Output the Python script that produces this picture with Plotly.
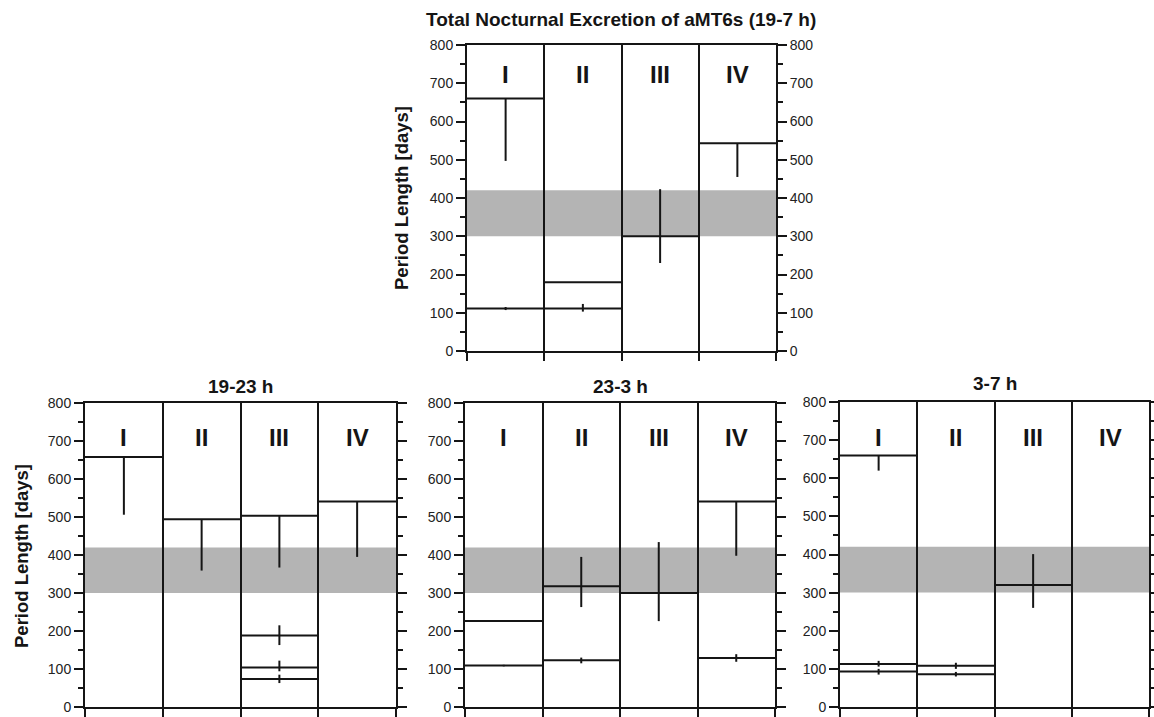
import plotly.graph_objects as go

# ---------------- data ----------------
columns = ["I", "II", "III", "IV"]
band_low, band_high = 300, 420
y_ticks = list(range(0, 801, 100))
y_minor = list(range(50, 800, 100))

panel_titles = ["Total Nocturnal Excretion of aMT6s (19-7 h)", "19-23 h", "23-3 h", "3-7 h"]

total_col = [0, 0, 1, 1, 2, 3]
total_mean = [660, 111, 180, 111, 300, 543]
total_lo = [163, 4, 0, 8, 70, 88]
total_hi = [0, 4, 0, 12, 123, 0]

h19_23_col = [0, 1, 2, 2, 2, 2, 3]
h19_23_mean = [658, 494, 503, 188, 104, 74, 541]
h19_23_lo = [152, 135, 136, 25, 10, 11, 146]
h19_23_hi = [0, 0, 0, 27, 18, 11, 0]

h23_3_col = [0, 0, 1, 1, 2, 3, 3]
h23_3_mean = [226, 109, 318, 123, 300, 541, 129]
h23_3_lo = [0, 2, 55, 8, 74, 143, 10]
h23_3_hi = [0, 2, 77, 7, 134, 0, 10]

h3_7_col = [0, 0, 0, 1, 1, 2]
h3_7_mean = [660, 113, 93, 108, 86, 320]
h3_7_lo = [40, 7, 8, 8, 6, 60]
h3_7_hi = [0, 8, 7, 8, 6, 81]

datasets = [
    (total_col, total_mean, total_lo, total_hi),
    (h19_23_col, h19_23_mean, h19_23_lo, h19_23_hi),
    (h23_3_col, h23_3_mean, h23_3_lo, h23_3_hi),
    (h3_7_col, h3_7_mean, h3_7_lo, h3_7_hi),
]

# ---------------- layout geometry ----------------
W, H = 1154, 717
FONT = "Arial, 'Liberation Sans', Helvetica, sans-serif"
INK = "#151515"

panels = [
    dict(px=(467, 776), py=(45, 351), right_labels=True, ylabel=(402, 198), title=(621, 19), num_y=722),
    dict(px=(85, 396), py=(403, 707), right_labels=False, ylabel=(21, 556), title=(240, 386), num_y=708),
    dict(px=(465, 775), py=(403, 707), right_labels=False, ylabel=None, title=(620, 386), num_y=708),
    dict(px=(840, 1149), py=(402, 707), right_labels=False, ylabel=None, title=(995, 383), num_y=708),
]

fig = go.Figure()
layout = dict(
    width=W, height=H, autosize=False,
    margin=dict(l=0, r=0, t=0, b=0, pad=0, autoexpand=False),
    paper_bgcolor="white", plot_bgcolor="white",
    showlegend=False,
    font=dict(family=FONT, color=INK, size=14),
)
annotations = []
shapes = []

for i, (p, (cols, means, lo, hi)) in enumerate(zip(panels, datasets)):
    k = i + 1
    xa = "x" if k == 1 else f"x{k}"
    ya = "y" if k == 1 else f"y{k}"
    yr = f"y{k + 4}"
    xdom = [p["px"][0] / W, p["px"][1] / W]
    ydom = [1 - p["py"][1] / H, 1 - p["py"][0] / H]

    layout["xaxis" + ("" if k == 1 else str(k))] = dict(
        domain=xdom, range=[0, len(columns)], anchor=ya,
        tickvals=list(range(len(columns) + 1)), showticklabels=False,
        ticks="outside", ticklen=8, tickwidth=2, tickcolor=INK,
        showgrid=True, gridcolor=INK, gridwidth=2,
        showline=True, linecolor=INK, linewidth=2, mirror=True,
        zeroline=False, fixedrange=True, automargin=False,
    )
    axis_common = dict(
        domain=ydom, range=[0, 800], tickvals=y_ticks,
        ticks="outside", ticklen=9, tickwidth=2, tickcolor=INK,
        minor=dict(tickvals=y_minor, ticks="outside", ticklen=5, tickwidth=2, tickcolor=INK),
        showgrid=False, showline=True, linecolor=INK, linewidth=2,
        zeroline=False, tickfont=dict(size=14, color="#222"), fixedrange=True,
        automargin=False, ticklabeloverflow="allow",
    )
    layout["yaxis" + ("" if k == 1 else str(k))] = dict(axis_common, anchor=xa, side="left")
    layout[f"yaxis{k + 4}"] = dict(axis_common, anchor=xa, side="right", overlaying=ya,
                                   showticklabels=p["right_labels"])

    # reference band
    shapes.append(dict(type="rect", xref=xa, yref=ya, x0=0, x1=len(columns),
                       y0=band_low, y1=band_high, fillcolor="#b4b4b4",
                       line=dict(width=0), layer="below"))

    # horizontal level lines
    for c, m in zip(cols, means):
        fig.add_trace(go.Scatter(x=[c, c + 1], y=[m, m], mode="lines",
                                 line=dict(color=INK, width=2),
                                 xaxis=xa, yaxis=ya, hoverinfo="skip"))
    # error bars
    fig.add_trace(go.Scatter(
        x=[c + 0.5 for c in cols], y=means, mode="markers",
        marker=dict(size=1, color="rgba(0,0,0,0)"),
        error_y=dict(type="data", symmetric=False, array=hi, arrayminus=lo,
                     width=0, thickness=2, color=INK),
        xaxis=xa, yaxis=yr, hoverinfo="skip"))

    # roman numerals
    for j, lab in enumerate(columns):
        annotations.append(dict(text=f"<b>{lab}</b>", xref=xa, yref=ya, x=j + 0.5, y=p["num_y"],
                                showarrow=False, xanchor="center", yanchor="middle",
                                font=dict(size=24, color=INK, family=FONT)))
    # titles
    tx, ty = p["title"]
    annotations.append(dict(text=f"<b>{panel_titles[i]}</b>", xref="paper", yref="paper",
                            x=tx / W, y=1 - ty / H, showarrow=False,
                            xanchor="center", yanchor="middle",
                            font=dict(size=19, color=INK, family=FONT)))
    if p["ylabel"]:
        lx, ly = p["ylabel"]
        annotations.append(dict(text="<b>Period Length [days]</b>", xref="paper", yref="paper",
                                x=lx / W, y=1 - ly / H, showarrow=False, textangle=-90,
                                xanchor="center", yanchor="middle",
                                font=dict(size=18.5, color=INK, family=FONT)))

layout["annotations"] = annotations
layout["shapes"] = shapes
fig.update_layout(**layout)
fig.write_html(
    "out.html",
    config={"displayModeBar": False, "staticPlot": True},
    post_script="document.body.style.margin='0';document.body.style.overflow='hidden';",
)
